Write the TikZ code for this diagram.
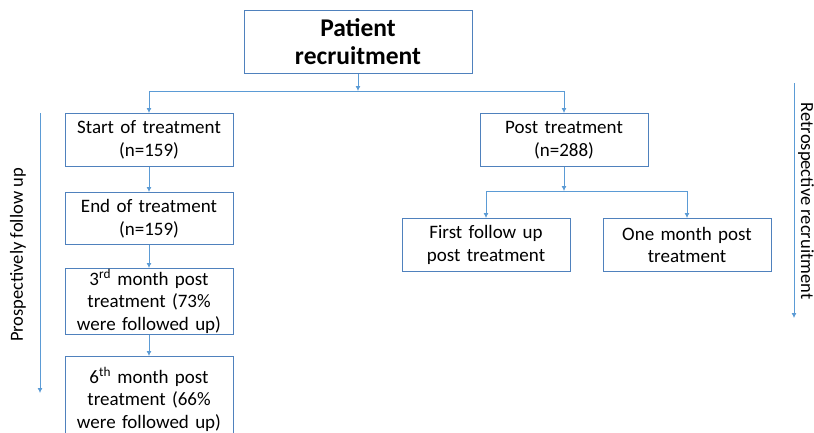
\documentclass[tikz,border=0pt]{standalone}
\usepackage{fontspec}
\setmainfont{Carlito}
\usetikzlibrary{arrows.meta}
\definecolor{boxline}{RGB}{79,129,189}
\definecolor{arrline}{RGB}{91,155,213}

\tikzstyle{box} = [draw=boxline, line width=1pt, text width=164pt, align=center, minimum width=168pt, inner sep=0pt, anchor=north, font=\fontsize{19}{22.5}\selectfont]
\tikzstyle{flow} = [draw=arrline, line width=0.8pt, -{Latex[length=5pt,width=5pt]}]
\tikzstyle{plain} = [draw=arrline, line width=0.8pt]
\tikzstyle{side} = [font=\fontsize{18.5}{22}\selectfont]

\begin{document}
\begin{tikzpicture}[x=1pt, y=-1pt]
\useasboundingbox (0,0) rectangle (814,432);
\node[box, minimum width=228pt, text width=220pt, minimum height=63pt,
      font=\fontsize{25.5}{28}\selectfont\bfseries] (recruit) at (358,10) {Patient\\recruitment};
\node[box, minimum height=53pt] (start) at (149,113) {Start of treatment\\(n=159)};
\node[box, minimum height=52pt] (end) at (149,192) {End of treatment\\(n=159)};
\node[box, minimum height=66pt] (third) at (149,268)
    {3\textsuperscript{rd} month post\\treatment (73\%\\were followed up)};
\node[box, minimum height=86pt] (sixth) at (149,356)
    {6\textsuperscript{th} month post\\treatment (66\%\\were followed up)};
\node[box, minimum height=53pt] (post) at (564,113) {Post treatment\\(n=288)};
\node[box, minimum height=53pt] (first) at (486,218) {First follow up\\post treatment};
\node[box, minimum height=53pt] (month) at (687,218) {One month post\\treatment};

% branching points
\coordinate (split) at (recruit.south |- 0,91);
\coordinate (splitL) at (start.north |- 0,91);
\coordinate (splitR) at (post.north |- 0,91);
\coordinate (fork) at (post.south |- 0,191);
\coordinate (forkL) at (first.north |- 0,191);
\coordinate (forkR) at (month.north |- 0,191);

\draw[flow] (recruit.south) -- (split);
\draw[plain] (splitL) -- (splitR);
\draw[flow] (splitL) -- (start.north);
\draw[flow] (splitR) -- (post.north);
\draw[flow] (start.south) -- (end.north);
\draw[flow] (end.south) -- (third.north);
\draw[flow] (third.south) -- (sixth.north);
\draw[flow] (post.south) -- (fork);
\draw[plain] (forkL) -- (forkR);
\draw[flow] (forkL) -- (first.north);
\draw[flow] (forkR) -- (month.north);

% side arrows
\coordinate (prosTop) at (40,113);
\coordinate (prosEnd) at (40,393);
\draw[flow] (prosTop) -- (prosEnd);
\node[side, rotate=90] (pros) at (18,255) {Prospectively follow up};
\coordinate (retroTop) at (794,83);
\coordinate (retroEnd) at (794,318);
\draw[flow] (retroTop) -- (retroEnd);
\node[side, rotate=-90] (retro) at (806,201) {Retrospective recruitment};
\end{tikzpicture}
\end{document}
